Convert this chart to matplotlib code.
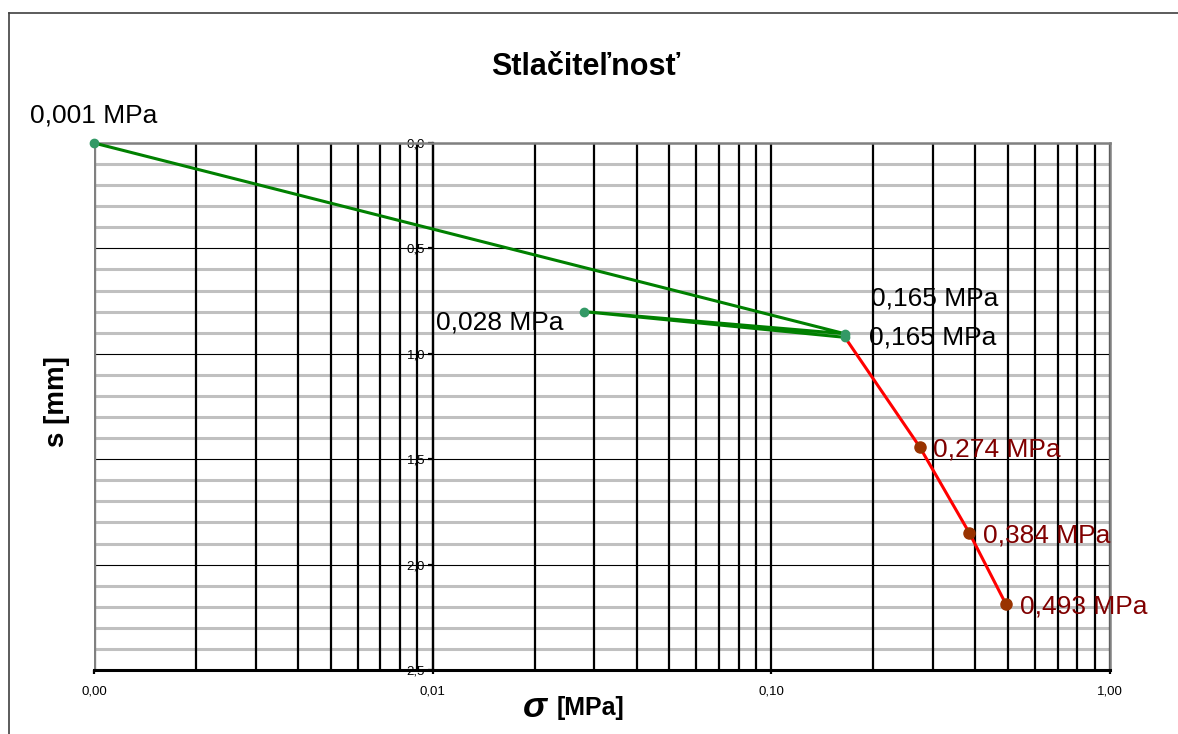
import matplotlib
matplotlib.use("Agg")
import matplotlib.pyplot as plt
from matplotlib.lines import Line2D
from matplotlib.ticker import LogLocator, MultipleLocator, FuncFormatter, NullFormatter

plt.rcParams['font.family'] = ['Liberation Sans', 'DejaVu Sans']

# Loading path (green) and further loading (red), stress in MPa, settlement in mm
green_sigma = [0.001, 0.165, 0.028, 0.165]
green_s = [0.0, 0.905, 0.800, 0.922]
red_sigma = [0.165, 0.274, 0.384, 0.493]
red_s = [0.922, 1.441, 1.849, 2.188]

title = "Stlačiteľnosť"
y_label = "s [mm]"
x_label = "[MPa]"

W, H = 1178, 734

# label offsets in pixels (dx, dy, ha) for each point
green_label_pos = [(0, 20, 'center'), (26, 28, 'left'), (-21, -18, 'right'), (24, -7, 'left')]
red_label_pos = [None, (13, -10, 'left'), (14, -10, 'left'), (14, -9, 'left')]


def comma(fmt):
    return FuncFormatter(lambda v, p: format(v, fmt).replace('.', ','))


def mpa_text(v):
    return f"{v:.3f} MPa".replace('.', ',')


# Set up axes, grid and frame
def setup_axes(fig):
    ax = fig.add_axes([94 / W, 1 - 670 / H, (1110 - 94) / W, (670 - 143) / H])
    ax.set_xscale('log')
    ax.set_xlim(0.001, 1.0)
    ax.set_ylim(2.5, 0.0)

    ax.xaxis.set_major_locator(LogLocator(base=10, numticks=10))
    ax.xaxis.set_minor_locator(LogLocator(base=10, subs=range(2, 10), numticks=30))
    ax.xaxis.set_major_formatter(comma('.2f'))
    ax.xaxis.set_minor_formatter(NullFormatter())
    ax.yaxis.set_major_locator(MultipleLocator(0.5))
    ax.yaxis.set_minor_locator(MultipleLocator(0.1))
    ax.yaxis.set_major_formatter(comma('.1f'))

    ax.set_axisbelow(True)
    ax.grid(axis='x', which='both', color='black', lw=1.6)
    ax.grid(axis='y', which='major', color='black', lw=0.8)
    ax.grid(axis='y', which='minor', color='#c0c0c0', lw=2.2)
    ax.yaxis.set_zorder(0.4)

    ax.spines['left'].set_position(('data', 0.01))
    ax.spines['left'].set_color('black')
    ax.spines['left'].set_linewidth(1.6)
    ax.spines['bottom'].set_color('black')
    ax.spines['bottom'].set_linewidth(2.2)
    for side in ['top', 'right']:
        ax.spines[side].set_color('#808080')
        ax.spines[side].set_linewidth(1.8)
    ax.axvline(0.001, color='#808080', lw=2.4, zorder=2.4)

    ax.tick_params(axis='x', which='major', length=3, width=1.6, labelsize=9.5, pad=8, color='black')
    ax.tick_params(axis='x', which='minor', length=0)
    ax.tick_params(axis='y', which='major', length=3.5, width=1.6, labelsize=9.5, pad=2)
    ax.tick_params(axis='y', which='minor', length=0)
    return ax


# Draw both series with their point labels
def plot_data(ax):
    ax.plot(red_sigma, red_s, color='red', lw=2.2, marker='o', ms=8,
            mfc='#993300', mec='#993300', markevery=[1, 2, 3], zorder=3)
    ax.plot(green_sigma, green_s, color='#008000', lw=2.2, marker='o', ms=6,
            mfc='#339966', mec='#339966', zorder=4, clip_on=False)

    for x, y, pos in zip(green_sigma, green_s, green_label_pos):
        dx, dy, ha = pos
        ax.annotate(mpa_text(x), (x, y), xytext=(dx, dy), textcoords='offset pixels',
                    ha=ha, va='baseline', fontsize=19, color='black', zorder=5)
    for x, y, pos in zip(red_sigma, red_s, red_label_pos):
        if pos is None:
            continue
        dx, dy, ha = pos
        ax.annotate(mpa_text(x), (x, y), xytext=(dx, dy), textcoords='offset pixels',
                    ha=ha, va='baseline', fontsize=19, color='#800000', zorder=5)


# Titles and outer border
def decorate(fig):
    fig.text(585.5 / W, 1 - 75 / H, title, ha='center', va='baseline',
             fontsize=22, fontweight='bold')
    fig.text(70 / W, 1 - 402 / H, y_label, rotation=90, ha='right', va='center',
             fontsize=20, fontweight='bold')
    fig.text(547 / W, 1 - 717 / H, "σ", ha='right', va='baseline',
             fontsize=26, fontweight='bold', fontstyle='italic')
    fig.text(557 / W, 1 - 715 / H, x_label, ha='left', va='baseline',
             fontsize=18, fontweight='bold')

    fig.add_artist(Line2D([9 / W, 9 / W], [0, 1 - 13 / H], color='#404040', lw=1.2))
    fig.add_artist(Line2D([9 / W, 1], [1 - 13 / H, 1 - 13 / H], color='#404040', lw=1.2))


def main():
    fig = plt.figure(figsize=(W / 100, H / 100), dpi=100)
    ax = setup_axes(fig)
    plot_data(ax)
    decorate(fig)
    fig.savefig('out.png', dpi=100)


if __name__ == "__main__":
    main()
